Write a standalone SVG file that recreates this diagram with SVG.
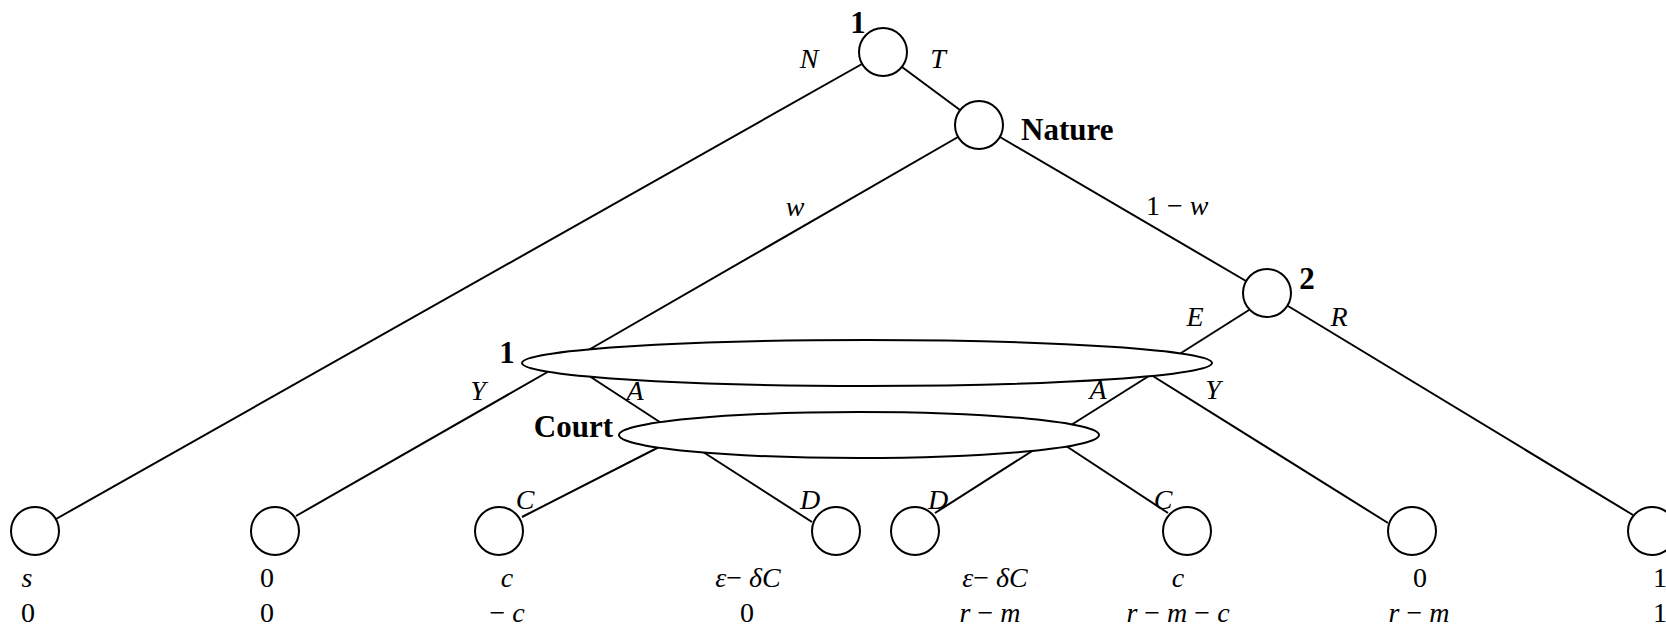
<svg xmlns="http://www.w3.org/2000/svg" width="1666" height="630" viewBox="0 0 1666 630">
<style>
.ln{stroke:#000;stroke-width:2;fill:none}
.nd{stroke:#000;stroke-width:2;fill:#fff}
.info{stroke:#000;stroke-width:2;fill:#fff}
text{font-family:"Liberation Serif","Times New Roman",serif;font-size:28px;fill:#000}
.b{font-weight:bold;font-size:31px}
.i{font-style:italic}
.m{text-anchor:middle}
</style>
<rect width="1666" height="630" fill="#fff"/>
<g id="connectors">
<line class="ln" x1="862" y1="64" x2="56" y2="519"/>
<line class="ln" x1="902" y1="67" x2="960" y2="110"/>
<line class="ln" x1="958" y1="137" x2="585" y2="352"/>
<line class="ln" x1="1000" y1="137" x2="1246" y2="281"/>
<line class="ln" x1="565" y1="362" x2="296" y2="516"/>
<line class="ln" x1="580" y1="370" x2="672" y2="430"/>
<line class="ln" x1="1249" y1="310" x2="1170" y2="360"/>
<line class="ln" x1="1160" y1="369" x2="1060" y2="432"/>
<line class="ln" x1="1140" y1="368" x2="1388" y2="523"/>
<line class="ln" x1="1288" y1="306" x2="1633" y2="515"/>
<line class="ln" x1="665" y1="444" x2="522" y2="517"/>
<line class="ln" x1="700" y1="450" x2="812" y2="522"/>
<line class="ln" x1="1040" y1="446" x2="935" y2="513"/>
<line class="ln" x1="1060" y1="442" x2="1168" y2="513"/>
</g>
<g id="edge-labels">
<text class="i m" x="809" y="68">N</text>
<text class="i m" x="938" y="68">T</text>
<text class="i m" x="795" y="216">w</text>
<text x="1146" y="215">1 − <tspan class="i">w</tspan></text>
<text class="i m" x="1195" y="326">E</text>
<text class="i m" x="1339" y="326">R</text>
<text class="i m" x="478" y="400">Y</text>
<text class="i m" x="635" y="400">A</text>
<text class="i m" x="1098" y="399">A</text>
<text class="i m" x="1213" y="399">Y</text>
<text class="i m" x="525" y="509">C</text>
<text class="i m" x="810" y="509">D</text>
<text class="i m" x="938" y="509">D</text>
<text class="i m" x="1163" y="509">C</text>
</g>
<g id="root">
<circle class="nd" cx="883" cy="52" r="24"/>
<text class="b m" x="858" y="33">1</text>
</g>
<g id="nature">
<circle class="nd" cx="979" cy="125" r="24"/>
<text class="b" x="1021" y="140">Nature</text>
</g>
<g id="node2">
<circle class="nd" cx="1267" cy="293" r="24"/>
<text class="b m" x="1307" y="289">2</text>
</g>
<g id="infoset1">
<ellipse class="info" cx="867" cy="363" rx="345" ry="23"/>
<text class="b m" x="507" y="363">1</text>
</g>
<g id="court">
<ellipse class="info" cx="859" cy="435" rx="240" ry="23"/>
<text class="b" x="613" y="437" text-anchor="end">Court</text>
</g>
<g id="leaf-N">
<circle class="nd" cx="35" cy="531" r="24"/>
<text class="i m" x="27" y="587">s</text>
<text class="m" x="28" y="622">0</text>
</g>
<g id="leaf-Y1">
<circle class="nd" cx="275" cy="531" r="24"/>
<text class="m" x="267" y="587">0</text>
<text class="m" x="267" y="622">0</text>
</g>
<g id="leaf-C1">
<circle class="nd" cx="499" cy="531" r="24"/>
<text class="i m" x="507" y="587">c</text>
<text class="m" x="507" y="622">− <tspan class="i">c</tspan></text>
</g>
<g id="leaf-D1">
<circle class="nd" cx="836" cy="531" r="24"/>
<text class="m" x="748" y="587"><tspan class="i">ε</tspan>− <tspan class="i">δC</tspan></text>
<text class="m" x="747" y="622">0</text>
</g>
<g id="leaf-D2">
<circle class="nd" cx="915" cy="531" r="24"/>
<text class="m" x="995" y="587"><tspan class="i">ε</tspan>− <tspan class="i">δC</tspan></text>
<text class="m" x="990" y="622"><tspan class="i">r</tspan> − <tspan class="i">m</tspan></text>
</g>
<g id="leaf-C2">
<circle class="nd" cx="1187" cy="531" r="24"/>
<text class="i m" x="1178" y="587">c</text>
<text class="m" x="1178" y="622"><tspan class="i">r</tspan> − <tspan class="i">m</tspan> − <tspan class="i">c</tspan></text>
</g>
<g id="leaf-Y2">
<circle class="nd" cx="1412" cy="531" r="24"/>
<text class="m" x="1420" y="587">0</text>
<text class="m" x="1419" y="622"><tspan class="i">r</tspan> − <tspan class="i">m</tspan></text>
</g>
<g id="leaf-R">
<circle class="nd" cx="1652" cy="531" r="24"/>
<text class="m" x="1660" y="587">1</text>
<text class="m" x="1660" y="622">1</text>
</g>
</svg>
